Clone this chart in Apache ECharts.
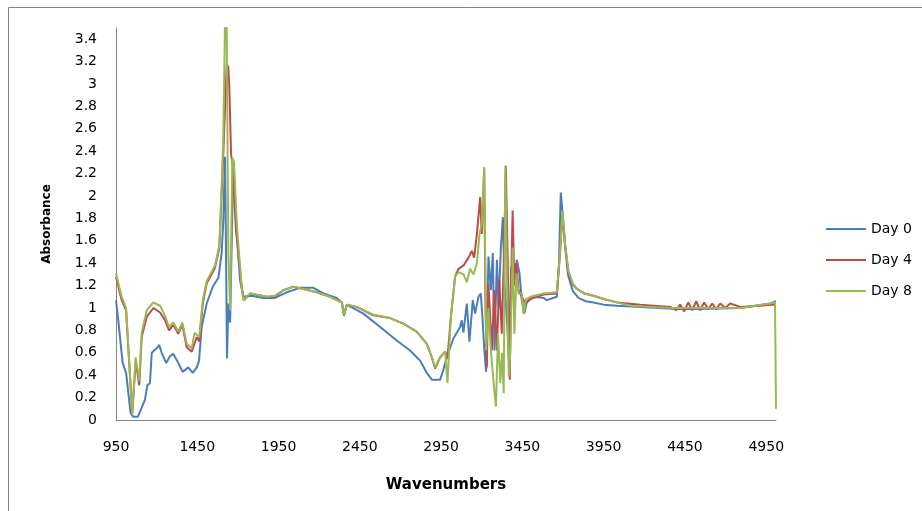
<!DOCTYPE html>
<html>
<head>
<meta charset="utf-8">
<script src="https://cdn.jsdelivr.net/npm/echarts@6/dist/echarts.min.js"></script>
<style>
  html, body { margin: 0; padding: 0; background: #fff; }
  #chart { width: 922px; height: 511px; }
</style>
</head>
<body>
<div id="chart"></div>
<script>
// FTIR spectra, absorbance vs wavenumber
const xTicks = [950, 1450, 1950, 2450, 2950, 3450, 3950, 4450, 4950];
const seriesNames = ['Day 0', 'Day 4', 'Day 8'];

const wnDay0 = [950, 964, 991, 1012, 1040, 1055, 1085, 1108, 1128, 1143, 1159, 1170, 1200, 1216, 1231, 1258, 1282, 1303, 1333, 1360, 1395, 1422, 1447, 1461, 1477, 1508, 1545, 1580, 1600, 1610, 1621, 1633, 1641, 1652, 1672, 1693, 1713, 1733, 1785, 1856, 1928, 2000, 2082, 2164, 2226, 2308, 2339, 2352, 2369, 2472, 2575, 2677, 2759, 2821, 2862, 2893, 2944, 2964, 2985, 3026, 3067, 3077, 3087, 3108, 3124, 3145, 3159, 3180, 3194, 3204, 3216, 3227, 3241, 3256, 3268, 3278, 3293, 3303, 3317, 3330, 3340, 3354, 3368, 3381, 3395, 3416, 3432, 3446, 3461, 3477, 3518, 3580, 3600, 3662, 3675, 3686, 3700, 3713, 3730, 3760, 3795, 3840, 3887, 3950, 4031, 4175, 4396, 4544, 4790, 4975, 5010];
const absDay0 = [1.07, 0.89, 0.51, 0.42, 0.06, 0.03, 0.03, 0.11, 0.18, 0.31, 0.33, 0.60, 0.64, 0.67, 0.60, 0.51, 0.57, 0.59, 0.51, 0.43, 0.47, 0.42, 0.47, 0.53, 0.83, 1.04, 1.19, 1.27, 1.49, 1.78, 2.35, 0.55, 1.04, 0.87, 2.29, 1.66, 1.25, 1.10, 1.11, 1.09, 1.09, 1.14, 1.18, 1.18, 1.13, 1.09, 1.05, 0.93, 1.03, 0.95, 0.83, 0.71, 0.62, 0.53, 0.42, 0.36, 0.36, 0.45, 0.56, 0.73, 0.83, 0.89, 0.78, 1.04, 0.70, 1.07, 0.95, 1.10, 1.13, 0.92, 0.62, 0.43, 1.46, 1.16, 1.49, 0.62, 1.43, 1.01, 1.52, 1.81, 1.22, 0.92, 0.51, 1.37, 1.22, 1.43, 1.31, 1.07, 0.95, 1.05, 1.10, 1.09, 1.07, 1.10, 1.40, 2.03, 1.80, 1.55, 1.30, 1.15, 1.09, 1.06, 1.05, 1.03, 1.02, 1.01, 0.99, 0.99, 1.00, 1.04, 1.06];

const wnDay4 = [950, 985, 1012, 1040, 1050, 1071, 1093, 1108, 1139, 1180, 1221, 1252, 1276, 1303, 1333, 1358, 1385, 1416, 1447, 1462, 1484, 1508, 1559, 1586, 1610, 1631, 1641, 1647, 1658, 1666, 1688, 1723, 1737, 1775, 1877, 1928, 1980, 2041, 2103, 2185, 2267, 2339, 2353, 2370, 2431, 2533, 2636, 2718, 2800, 2862, 2893, 2913, 2944, 2975, 2989, 3010, 3036, 3057, 3088, 3118, 3139, 3153, 3170, 3190, 3200, 3215, 3223, 3231, 3241, 3262, 3276, 3293, 3308, 3323, 3337, 3348, 3360, 3372, 3380, 3390, 3401, 3413, 3426, 3446, 3468, 3498, 3580, 3662, 3682, 3696, 3713, 3733, 3760, 3785, 3830, 3887, 3950, 4031, 4175, 4360, 4396, 4420, 4445, 4470, 4495, 4519, 4544, 4568, 4593, 4618, 4642, 4667, 4698, 4728, 4790, 4913, 4975, 5010];
const absDay4 = [1.28, 1.07, 0.98, 0.30, 0.06, 0.53, 0.31, 0.74, 0.92, 1.00, 0.96, 0.89, 0.80, 0.85, 0.77, 0.85, 0.65, 0.61, 0.74, 0.70, 1.04, 1.22, 1.36, 1.54, 2.37, 3.18, 3.15, 2.97, 2.37, 2.30, 1.70, 1.19, 1.07, 1.13, 1.10, 1.10, 1.16, 1.19, 1.17, 1.14, 1.10, 1.05, 0.94, 1.03, 1.01, 0.935, 0.91, 0.86, 0.79, 0.68, 0.56, 0.46, 0.56, 0.61, 0.55, 0.92, 1.28, 1.35, 1.38, 1.45, 1.51, 1.45, 1.66, 1.99, 1.66, 2.24, 1.00, 0.47, 1.22, 0.62, 1.16, 0.62, 1.25, 0.77, 1.50, 2.27, 1.40, 0.36, 1.20, 1.87, 1.20, 1.40, 1.16, 1.10, 1.04, 1.08, 1.12, 1.13, 1.50, 1.83, 1.55, 1.32, 1.21, 1.17, 1.13, 1.11, 1.08, 1.05, 1.03, 1.01, 0.98, 1.03, 0.97, 1.05, 0.98, 1.06, 0.98, 1.05, 0.99, 1.04, 0.99, 1.04, 1.00, 1.04, 1.01, 1.02, 1.03, 1.03];

const wnDay8 = [950, 985, 1012, 1040, 1050, 1071, 1093, 1108, 1139, 1180, 1221, 1252, 1276, 1303, 1333, 1358, 1385, 1416, 1434, 1447, 1462, 1484, 1508, 1559, 1586, 1610, 1621, 1631, 1641, 1652, 1666, 1676, 1693, 1723, 1733, 1775, 1877, 1928, 1980, 2041, 2103, 2185, 2267, 2339, 2353, 2370, 2431, 2533, 2636, 2718, 2800, 2862, 2893, 2913, 2944, 2975, 2989, 3010, 3036, 3057, 3088, 3108, 3128, 3149, 3170, 3186, 3200, 3215, 3227, 3241, 3256, 3273, 3287, 3300, 3314, 3325, 3335, 3345, 3356, 3366, 3376, 3390, 3401, 3413, 3426, 3446, 3456, 3473, 3498, 3580, 3662, 3682, 3696, 3713, 3733, 3760, 3785, 3830, 3887, 3950, 4031, 4113, 4360, 4544, 4790, 4975, 5004, 5010];
const absDay8 = [1.31, 1.10, 1.00, 0.30, 0.05, 0.56, 0.35, 0.78, 0.98, 1.05, 1.02, 0.93, 0.83, 0.87, 0.79, 0.87, 0.68, 0.64, 0.78, 0.76, 0.74, 1.07, 1.24, 1.38, 1.56, 2.50, 3.60, 3.50, 1.50, 0.98, 2.34, 2.30, 1.75, 1.19, 1.07, 1.13, 1.10, 1.11, 1.16, 1.19, 1.17, 1.14, 1.10, 1.05, 0.94, 1.03, 1.01, 0.94, 0.91, 0.86, 0.79, 0.68, 0.56, 0.47, 0.56, 0.61, 0.33, 0.92, 1.28, 1.32, 1.30, 1.23, 1.35, 1.30, 1.40, 1.66, 1.75, 2.26, 0.62, 1.00, 0.62, 0.33, 0.12, 0.77, 0.33, 0.60, 0.24, 2.26, 1.22, 0.39, 0.62, 1.54, 0.77, 1.31, 1.13, 1.13, 0.95, 1.08, 1.10, 1.13, 1.14, 1.51, 1.87, 1.57, 1.33, 1.22, 1.17, 1.13, 1.11, 1.08, 1.05, 1.02, 1.00, 1.00, 1.00, 1.04, 1.05, 0.10];

const colors = ['#4A7EBB', '#BE4B48', '#98B954'];
const font = 'DejaVu Sans';

function pairs(xs, ys) {
    return xs.map((x, i) => [x, ys[i]]);
}

const chart = echarts.init(document.getElementById('chart'));
const option = {
    animation: false,
    color: colors,
    grid: {
        left: 116,
        right: 146,
        top: 28,
        bottom: 91,
        containLabel: false
    },
    legend: {
        orient: 'vertical',
        left: 826,
        top: 221,
        padding: 0,
        icon: 'rect',
        itemWidth: 40,
        itemHeight: 2,
        itemGap: 15,
        textStyle: {
            fontFamily: font,
            fontSize: 14,
            color: '#000',
            lineHeight: 16
        },
        data: seriesNames
    },
    xAxis: {
        type: 'value',
        min: xTicks[0],
        max: 5010,
        interval: 500,
        name: 'Wavenumbers',
        nameLocation: 'middle',
        nameGap: 58,
        nameTextStyle: {
            fontFamily: font,
            fontSize: 15,
            fontWeight: 'bold',
            color: '#000'
        },
        axisLine: { lineStyle: { color: '#868686', width: 1 } },
        axisTick: { show: false },
        splitLine: { show: false },
        axisLabel: {
            showMaxLabel: false,
            margin: 20,
            fontFamily: font,
            fontSize: 14,
            color: '#000',
            formatter: v => String(v)
        }
    },
    yAxis: {
        type: 'value',
        min: 0,
        max: 3.5,
        interval: 0.2,
        name: 'Absorbance',
        nameLocation: 'middle',
        nameGap: 63,
        nameTextStyle: {
            fontFamily: font,
            fontSize: 12,
            fontWeight: 'bold',
            color: '#000'
        },
        axisLine: { show: true, lineStyle: { color: '#868686', width: 1 } },
        axisTick: { show: false },
        splitLine: { show: false },
        axisLabel: {
            showMaxLabel: false,
            margin: 19,
            fontFamily: font,
            fontSize: 14,
            color: '#000'
        }
    },
    graphic: [{
        type: 'rect',
        shape: { x: 8.5, y: 7.5, width: 1000, height: 1000 },
        style: { fill: 'none', stroke: '#868686', lineWidth: 1 },
        silent: true
    }],
    series: [
        { name: 'Day 0', type: 'line', data: pairs(wnDay0, absDay0) },
        { name: 'Day 4', type: 'line', data: pairs(wnDay4, absDay4) },
        { name: 'Day 8', type: 'line', data: pairs(wnDay8, absDay8) }
    ].map(s => Object.assign(s, {
        showSymbol: false,
        symbol: 'none',
        clip: true,
        lineStyle: { width: 2 }
    }))
};
chart.setOption(option);
</script>
</body>
</html>
